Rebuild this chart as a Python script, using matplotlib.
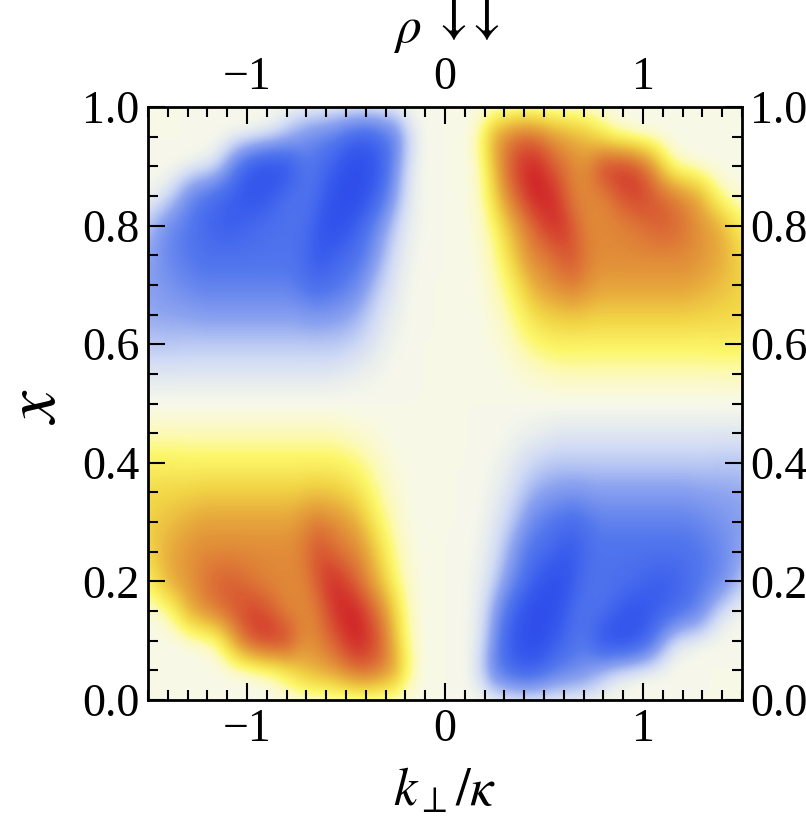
import numpy as np
import matplotlib
matplotlib.use('Agg')
import matplotlib.pyplot as plt
from matplotlib.colors import LinearSegmentedColormap
from matplotlib.ticker import MultipleLocator, FixedLocator, FuncFormatter

plt.rcParams['font.family'] = ['Liberation Serif', 'DejaVu Serif']
plt.rcParams['mathtext.fontset'] = 'stix'

# grid (k >= 0, x >= 0.5)
k_pos = [0.00, 0.05, 0.10, 0.15, 0.20, 0.25, 0.30, 0.35, 0.40, 0.45,
         0.50, 0.55, 0.60, 0.65, 0.70, 0.75, 0.80, 0.85, 0.90, 0.95,
         1.00, 1.05, 1.10, 1.15, 1.20, 1.25, 1.30, 1.35, 1.40, 1.45, 1.50]
x_upper = [0.50, 0.55, 0.60, 0.65, 0.70, 0.75, 0.80, 0.85, 0.90, 0.95, 1.00]

# rows follow x_upper, columns follow k_pos
rho_upper = [
    [0] * 31,
    [0, 0, 0, 0, 0, 0, 0.01, 0.02, 0.03, 0.04, 0.05, 0.06] + [0.07] * 19,
    [0, 0, 0, 0, 0.01, 0.02, 0.04, 0.07, 0.10, 0.13, 0.15] + [0.17] * 16 + [0.18] * 4,
    [0, 0, 0, 0, 0.02, 0.04, 0.07, 0.12, 0.18, 0.25, 0.30, 0.33, 0.35, 0.36, 0.35]
    + [0.33] * 10 + [0.32, 0.31, 0.30, 0.30, 0.29, 0.28],
    [0, 0, 0, 0.01, 0.03, 0.07, 0.12, 0.20, 0.32, 0.45, 0.52, 0.58, 0.62, 0.65, 0.60, 0.55]
    + [0.50] * 9 + [0.48, 0.45, 0.42, 0.38, 0.35, 0.32],
    [0, 0, 0, 0.02, 0.05, 0.10, 0.20, 0.35, 0.50, 0.60, 0.65, 0.72, 0.80, 0.80, 0.70, 0.62]
    + [0.60] * 9 + [0.58, 0.55, 0.50, 0.45, 0.38, 0.30],
    [0, 0, 0.01, 0.03, 0.07, 0.15, 0.30, 0.45, 0.60, 0.75, 0.88, 0.95, 0.92, 0.78, 0.65, 0.60,
     0.60, 0.60, 0.62, 0.65, 0.70, 0.75, 0.78, 0.75, 0.70,
     0.62, 0.55, 0.50, 0.42, 0.30, 0.20],
    [0, 0, 0.01, 0.04, 0.12, 0.30, 0.52, 0.72, 0.88, 1.00, 1.00, 0.95, 0.80, 0.65, 0.60, 0.60,
     0.62, 0.72, 0.82, 0.88, 0.88, 0.82, 0.75, 0.68, 0.60,
     0.52, 0.40, 0.22, 0.10, 0.04, 0.01],
    [0, 0, 0.01, 0.05, 0.15, 0.38, 0.65, 0.85, 0.95, 1.00, 0.92, 0.80, 0.70, 0.62, 0.60, 0.72,
     0.90, 0.95, 0.95, 0.88, 0.75, 0.55, 0.30, 0.12, 0.04,
     0.02, 0, 0, 0, 0, 0],
    [0, 0, 0.01, 0.08, 0.22, 0.48, 0.60, 0.70, 0.75, 0.72, 0.65, 0.55, 0.50, 0.45, 0.40, 0.30,
     0.20, 0.10, 0.05, 0.02, 0, 0, 0, 0, 0,
     0, 0, 0, 0, 0, 0],
    [0] * 31,
]

# the plot is odd in k and odd about x = 0.5
q = np.array(rho_upper, dtype=float)
right = np.vstack([-q[:0:-1], q])
field = np.hstack([-right[:, :0:-1], right])

k_half = k_pos[1] - k_pos[0]
x_half = x_upper[1] - x_upper[0]

cmap_nodes = [
    (-1.00, (0.18, 0.30, 0.92)),
    (-0.80, (0.22, 0.36, 0.93)),
    (-0.55, (0.33, 0.47, 0.93)),
    (-0.30, (0.55, 0.64, 0.94)),
    (-0.12, (0.82, 0.86, 0.96)),
    (0.00, (0.973, 0.976, 0.918)),
    (0.07, (0.99, 0.98, 0.74)),
    (0.15, (0.99, 0.97, 0.42)),
    (0.30, (0.95, 0.84, 0.28)),
    (0.45, (0.91, 0.68, 0.24)),
    (0.60, (0.88, 0.54, 0.22)),
    (0.80, (0.85, 0.35, 0.20)),
    (1.00, (0.82, 0.14, 0.16)),
]
temp_map = LinearSegmentedColormap.from_list(
    'temperature', [((v + 1) / 2, c) for v, c in cmap_nodes])

fig = plt.figure(figsize=(8.06, 8.22), dpi=100)
ax = fig.add_axes([148 / 806, 1 - 700 / 822, 594 / 806, 593 / 822])

ax.imshow(field, origin='lower', cmap=temp_map, vmin=-1, vmax=1,
          interpolation='bicubic', aspect='auto',
          extent=[-1.5 - k_half / 2, 1.5 + k_half / 2,
                  -x_half / 2, 1.0 + x_half / 2])
ax.set_xlim(-1.5, 1.5)
ax.set_ylim(0, 1)

ax.xaxis.set_major_locator(FixedLocator([-1, 0, 1]))
ax.xaxis.set_minor_locator(MultipleLocator(0.1))
ax.yaxis.set_major_locator(MultipleLocator(0.2))
ax.yaxis.set_minor_locator(MultipleLocator(0.05))
ax.xaxis.set_major_formatter(FuncFormatter(
    lambda v, p: '%d' % round(v) if round(v) >= 0 else '\u2212%d' % -round(v)))
ax.yaxis.set_major_formatter(FuncFormatter(lambda v, p: '%.1f' % v))

ax.tick_params(which='both', direction='in', top=True, right=True,
               labeltop=True, labelright=True, width=1.5, color='black')
ax.tick_params(which='major', length=12, labelsize=33, pad=6)
ax.tick_params(which='minor', length=7.5)
for s in ax.spines.values():
    s.set_linewidth(2.0)

fig.text(407 / 806, 1 - 42 / 822, r'$\rho$', fontsize=37,
         ha='center', va='baseline')
fig.text(465 / 806, 1 + 9 / 822, r'$\downarrow\!\!\downarrow$', fontsize=42,
         ha='center', va='top')
fig.text(445 / 806, 1 - 817 / 822, r'$k_{\perp}/\kappa$', fontsize=38,
         ha='center', va='bottom')
fig.text(37 / 806, 0.506, r'$x$', fontsize=52, rotation=90,
         ha='center', va='center')

fig.savefig('out.png', dpi=100)
